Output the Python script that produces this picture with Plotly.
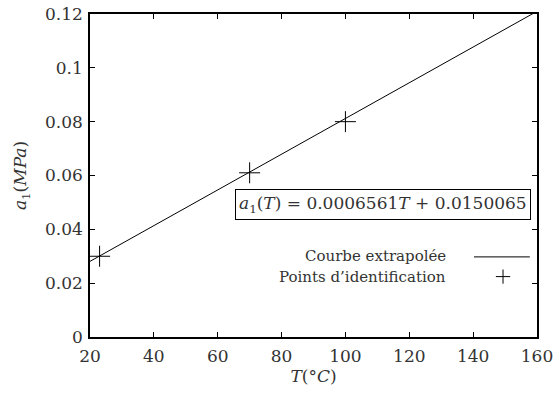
import plotly.graph_objects as go

# points d'identification
T_points = [23, 70, 100]
a1_points = [0.030, 0.061, 0.080]

# courbe extrapolée (extrémités)
T_line = [20, 160]
a1_line = [0.0281, 0.1210]

x_ticks = [20, 40, 60, 80, 100, 120, 140, 160]
y_ticks = [0, 0.02, 0.04, 0.06, 0.08, 0.1, 0.12]

font = "DejaVu Serif"
ink = "#333"

fig = go.Figure()
fig.add_trace(go.Scatter(x=T_line, y=a1_line, mode="lines",
                         line=dict(color="black", width=1), showlegend=False))
fig.add_trace(go.Scatter(x=T_points, y=a1_points, mode="markers",
                         marker=dict(symbol="cross-thin", size=15,
                                     line=dict(color="black", width=1)),
                         showlegend=False))

axis = dict(showline=True, linecolor="black", linewidth=1.5, mirror="ticks",
            ticks="inside", ticklen=5, tickcolor="black", tickwidth=1,
            showgrid=False, zeroline=False, automargin=False,
            tickfont=dict(family=font, size=17, color=ink))

fig.update_xaxes(range=[20, 160], tickvals=x_ticks, ticklabelstandoff=3, **axis,
                 title=dict(text="<i>T</i>(°<i>C</i>)", standoff=0,
                            font=dict(family=font, size=17, color=ink)))
fig.update_yaxes(range=[0, 0.12], tickvals=y_ticks, ticklabelstandoff=2, **axis,
                 title=dict(text="<i>a</i><sub>1</sub>(<i>MPa</i>)", standoff=14,
                            font=dict(family=font, size=17, color=ink)))

fig.add_annotation(xref="paper", yref="paper", x=0.655, y=0.409,
                   xanchor="center", yanchor="middle", showarrow=False,
                   text="<i>a</i><sub>1</sub>(<i>T</i>) = 0.0006561<i>T</i> + 0.0150065",
                   font=dict(family=font, size=17, color=ink),
                   bordercolor="black", borderwidth=1, borderpad=3, bgcolor="white")

# légende à la gnuplot : texte à gauche, symbole à droite
fig.add_annotation(xref="paper", yref="paper", x=0.801, y=0.25,
                   xanchor="right", yanchor="middle", showarrow=False,
                   text="Courbe extrapolée", font=dict(family=font, size=15, color=ink))
fig.add_annotation(xref="paper", yref="paper", x=0.801, y=0.187,
                   xanchor="right", yanchor="middle", showarrow=False,
                   text="Points d’identification", font=dict(family=font, size=15, color=ink))
fig.add_shape(type="line", xref="paper", yref="paper", x0=0.859, x1=0.984,
              y0=0.248, y1=0.248, line=dict(color="black", width=1))
fig.add_shape(type="line", xref="paper", yref="paper", x0=0.908, x1=0.940,
              y0=0.187, y1=0.187, line=dict(color="black", width=1))
fig.add_shape(type="line", xref="paper", yref="paper", x0=0.924, x1=0.924,
              y0=0.165, y1=0.209, line=dict(color="black", width=1))

fig.update_layout(width=556, height=396, margin=dict(l=90, r=19, t=14, b=59),
                  plot_bgcolor="white", paper_bgcolor="white")

# la page a une marge de 8 px par défaut : on la retire
fig.write_html("out.html", config={"displayModeBar": False},
               post_script="document.body.style.margin='0';")
